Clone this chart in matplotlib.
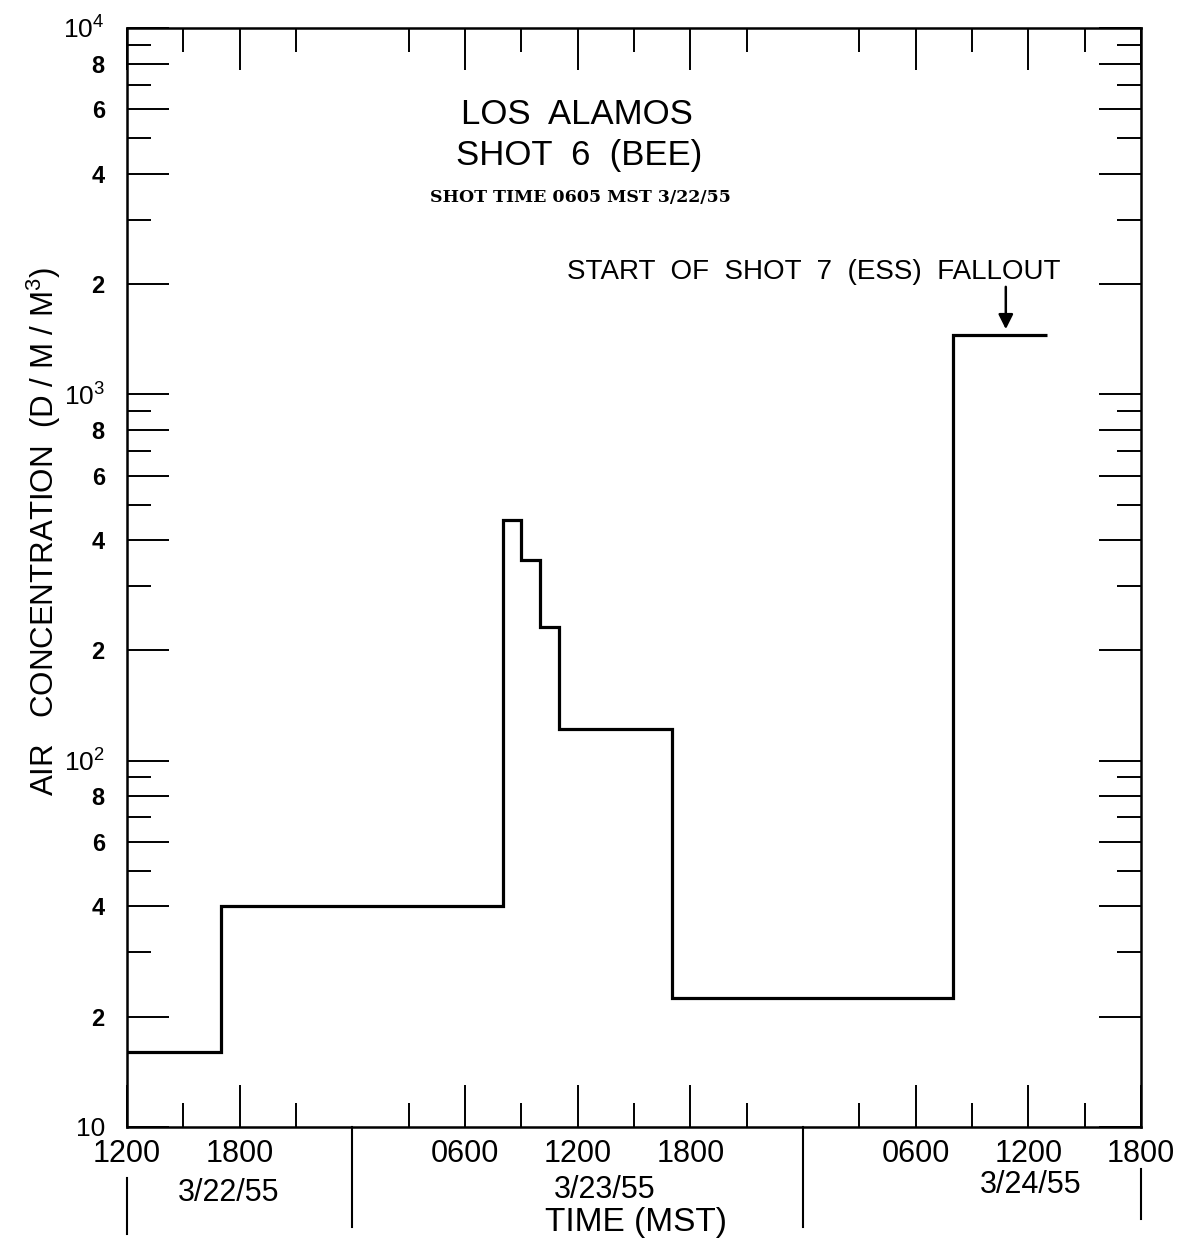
import matplotlib
matplotlib.use("Agg")
from matplotlib import pyplot as plt

plt.rcParams['font.family'] = ['Liberation Sans', 'DejaVu Sans']
plt.rcParams['mathtext.default'] = 'regular'

# hours after 1200 MST 3/22/55 where the sampled level changes
step_hours = [0, 5, 20, 21, 22, 23, 29, 44, 49]
air_conc = [16, 40, 455, 354, 231, 122, 22.5, 1450]   # D/M/M^3

x_major = [0, 6, 18, 24, 30, 42, 48, 54]
x_labels = ['1200', '1800', '0600', '1200', '1800', '0600', '1200', '1800']
x_minor = [3, 9, 15, 21, 27, 33, 39, 45, 51]
midnights = [12, 36]
days = ['3/22/55', '3/23/55', '3/24/55']

y_major = [10, 20, 40, 60, 80, 100, 200, 400, 600, 800,
           1000, 2000, 4000, 6000, 8000, 10000]
y_labels = ['10', '2', '4', '6', '8', '$10^2$', '2', '4', '6', '8',
            '$10^3$', '2', '4', '6', '8', '$10^4$']
y_minor = [30, 50, 70, 90, 300, 500, 700, 900, 3000, 5000, 7000, 9000]

W, H = 1199, 1243
def fp(x, y):
    return x / W, 1 - y / H

fig = plt.figure(figsize=(W / 100, H / 100), dpi=100)
ax = fig.add_axes([127 / W, 1 - 1127 / H, (1141 - 127) / W, (1127 - 28) / H])

ax.stairs(air_conc, step_hours, baseline=None, color='k', lw=2.3)

ax.set_yscale('log')
ax.set_xlim(0, 54)
ax.set_ylim(10, 1e4)
ax.set_xticks(x_major, x_labels)
ax.set_xticks(x_minor, minor=True)
ax.set_yticks(y_major, y_labels)
ax.set_yticks(y_minor, minor=True)
ax.yaxis.set_minor_formatter(plt.NullFormatter())

ax.tick_params(which='both', direction='in', top=True, right=True, width=1.4, color='k')
ax.tick_params(which='major', length=30)
ax.tick_params(which='minor', length=17)
ax.tick_params(axis='x', labelsize=22, pad=9)
ax.tick_params(axis='y', labelsize=17, pad=16)
for lab in ax.get_yticklabels():
    if '10' in lab.get_text():
        lab.set_fontsize(19)
    else:
        lab.set_fontweight('bold')
for s in ax.spines.values():
    s.set_linewidth(1.8)

# day separators below the axis
xt = ax.get_xaxis_transform()
for m in midnights:
    ax.plot([m, m], [0, -0.091], transform=xt, color='k', lw=1.5, clip_on=False)
ax.plot([0, 0], [-0.046, -0.097], transform=xt, color='k', lw=1.5, clip_on=False)
ax.plot([54, 54], [-0.038, -0.084], transform=xt, color='k', lw=1.5, clip_on=False)

for d, (x, y) in zip(days, [(229, 1193), (605, 1190), (1031, 1185)]):
    fig.text(*fp(x, y), d, fontsize=22, ha='center', va='center')
fig.text(*fp(636, 1222), 'TIME (MST)', fontsize=24, ha='center', va='center')
fig.text(*fp(44, 531), 'AIR   CONCENTRATION  (D / M / M$^3$)', fontsize=22.5,
         rotation=90, ha='center', va='center')

fig.text(*fp(577, 115), 'LOS  ALAMOS', fontsize=25, ha='center', va='center')
fig.text(*fp(579, 155), 'SHOT  6  (BEE)', fontsize=25, ha='center', va='center')
fig.text(*fp(580, 197), 'SHOT TIME 0605 MST 3/22/55', fontsize=12.5, ha='center',
         va='center', family='DejaVu Serif', weight='bold')
fig.text(*fp(814, 272), 'START  OF  SHOT  7  (ESS)  FALLOUT', fontsize=20,
         ha='center', va='center')
ax.annotate('', xy=(46.8, 1480), xytext=(46.8, 2000),
            arrowprops=dict(arrowstyle='-|>', color='k', lw=1.8, mutation_scale=22))

fig.savefig('out.png', dpi=100)
